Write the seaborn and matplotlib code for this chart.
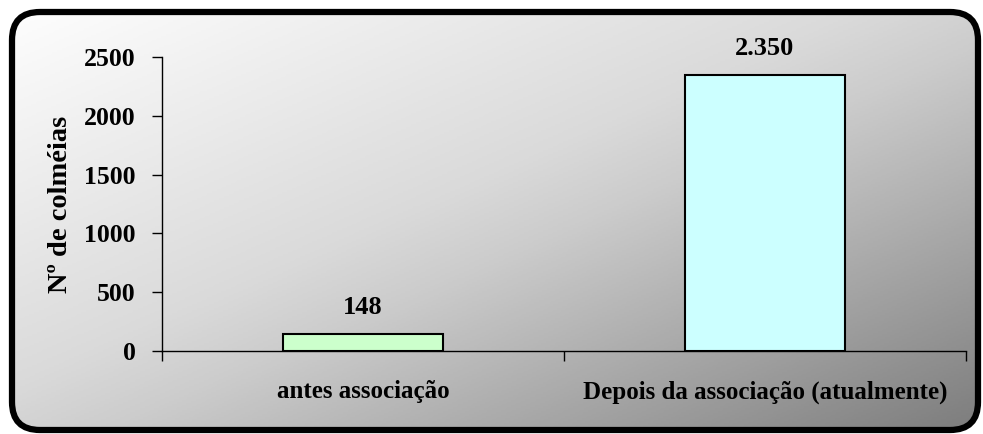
import numpy as np
import matplotlib
matplotlib.use("Agg")
import matplotlib.pyplot as plt
from matplotlib.patches import FancyBboxPatch
from matplotlib.colors import LinearSegmentedColormap
import seaborn as sns

categories = ["antes associação", "Depois da associação (atualmente)"]
values = [148, 2350]
bar_colors = ["#CCFFCC", "#CCFFFF"]
y_ticks = [0, 500, 1000, 1500, 2000, 2500]
y_label = "Nº de colméias"

sns.set_theme(style="white")
plt.rcParams["font.family"] = ["Liberation Serif", "DejaVu Serif"]
plt.rcParams["font.weight"] = "bold"

fig = plt.figure(figsize=(9.83, 4.34), dpi=100)
fig.patch.set_facecolor("white")

# background gradient inside rounded border
frame = FancyBboxPatch((0.12, 0.04), 9.66, 4.18,
                       boxstyle="round,pad=0,rounding_size=0.28",
                       transform=fig.dpi_scale_trans, facecolor="none",
                       edgecolor="black", linewidth=4.5, zorder=0.5)
bg = fig.add_axes([0, 0, 1, 1], zorder=-1)
bg.set_axis_off()
xx, yy = np.meshgrid(np.linspace(0, 1, 400), np.linspace(0, 1, 200))
grad = (xx + yy) / 2.0  # row 0 = top (origin upper)
cmap = LinearSegmentedColormap.from_list(
    "g", [(0.0, "#FFFFFF"), (0.45, "#DADADA"), (0.55, "#CCCCCC"), (1.0, "#7C7C7C")])
im = bg.imshow(grad, extent=[0, 1, 0, 1], origin="upper", aspect="auto",
               cmap=cmap, vmin=0, vmax=1)
bg.set_xlim(0, 1); bg.set_ylim(0, 1)
im.set_clip_path(frame)
fig.add_artist(frame)

ax = fig.add_axes([162/983, 1-351/434, (966-162)/983, (351-57)/434], zorder=1)
ax.patch.set_alpha(0)
sns.barplot(x=categories, y=values, hue=categories, palette=bar_colors,
            saturation=1, width=0.4, edgecolor="black", linewidth=1.5,
            legend=False, ax=ax)
ax.set_xlim(-0.5, 1.5)
ax.set_ylim(0, 2500)
ax.set_yticks(y_ticks)
ax.set_yticklabels([str(t) for t in y_ticks], fontsize=18.5, fontweight="bold")
ax.set_xticks(range(len(categories)))
ax.set_xticklabels(categories, fontsize=18, fontweight="bold")
ax.set_xticks([-0.5, 0.5, 1.5], minor=True)
ax.tick_params(axis="x", which="major", length=0, pad=21, colors="black")
ax.tick_params(axis="x", which="minor", length=7, width=1, direction="out",
               bottom=True, color="black")
ax.tick_params(axis="y", length=7, width=1, direction="out", left=True,
               pad=12, colors="black")
for s in ["top", "right"]:
    ax.spines[s].set_visible(False)
for s in ["left", "bottom"]:
    ax.spines[s].set_color("black")
    ax.spines[s].set_linewidth(1)
ax.set_xlabel("")
ax.set_ylabel(y_label, fontsize=20.5, fontweight="bold", labelpad=8, color="black")

for i, v in enumerate(values):
    ax.annotate(f"{v:,}".replace(",", "."), (i, v), xytext=(0, 19),
                textcoords="offset points", ha="center", va="center",
                fontsize=19, fontweight="bold", color="black")

fig.savefig("out.png", dpi=100)
